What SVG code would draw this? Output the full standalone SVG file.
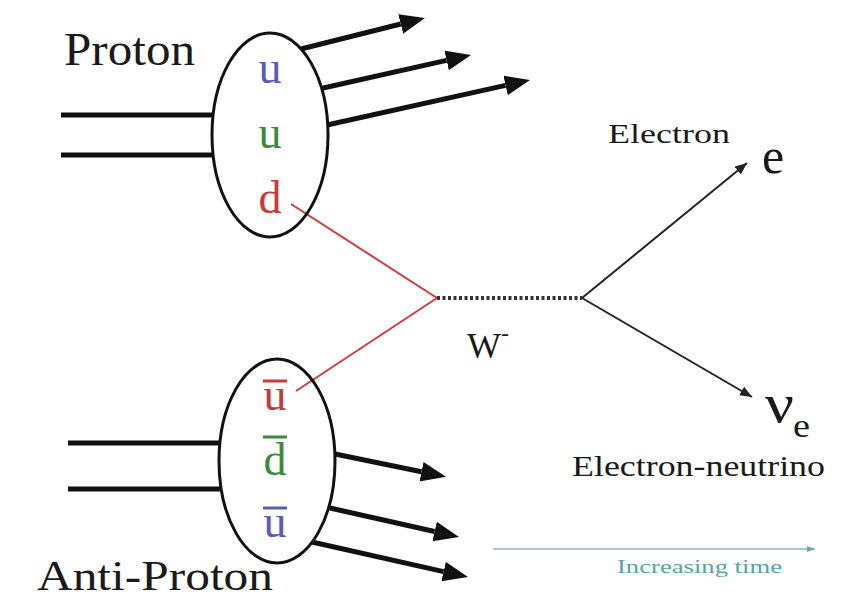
<svg xmlns="http://www.w3.org/2000/svg" width="843" height="601" viewBox="0 0 843 601">
<style>
.t{font-family:"Liberation Serif","Times New Roman",serif;fill:#1a1a1a}
.thick{stroke:#111;stroke-width:5;fill:none}
.thin{stroke:#222;stroke-width:2;fill:none}
.red{stroke:#d23a3a;stroke-width:2;fill:none}
.ell{fill:none;stroke:#111;stroke-width:3}
.q{font-family:"Liberation Serif","Times New Roman",serif;font-size:46px;text-anchor:middle}
</style>
<defs>
<marker id="big" markerUnits="userSpaceOnUse" markerWidth="26" markerHeight="22" refX="0" refY="10" orient="auto">
<path d="M0,0 L25,10 L0,20 z" fill="#111"/>
</marker>
<marker id="small" markerUnits="userSpaceOnUse" markerWidth="14" markerHeight="10" refX="12" refY="5" orient="auto">
<path d="M0,0 L12,5 L0,10 z" fill="#222"/>
</marker>
<marker id="tm" markerUnits="userSpaceOnUse" markerWidth="10" markerHeight="8" refX="8" refY="4" orient="auto">
<path d="M0,1 L8,4 L0,7 z" fill="#6aa8a8"/>
</marker>
</defs>
<rect width="843" height="601" fill="#fff"/>
<g id="connectors">
<line class="thick" x1="61" y1="115" x2="213" y2="115"/>
<line class="thick" x1="61" y1="155" x2="213" y2="155"/>
<line class="thick" x1="301" y1="49" x2="400.7" y2="24" marker-end="url(#big)"/>
<line class="thick" x1="321" y1="88.5" x2="446.6" y2="60.4" marker-end="url(#big)"/>
<line class="thick" x1="327" y1="125" x2="505.6" y2="85.4" marker-end="url(#big)"/>
<line class="thick" x1="68" y1="443" x2="220" y2="443"/>
<line class="thick" x1="68" y1="489" x2="221" y2="489"/>
<line class="thick" x1="335" y1="454" x2="421.5" y2="471.8" marker-end="url(#big)"/>
<line class="thick" x1="330" y1="508" x2="434.6" y2="531.5" marker-end="url(#big)"/>
<line class="thick" x1="312" y1="542" x2="443.6" y2="571.6" marker-end="url(#big)"/>
<line class="red" x1="291" y1="204" x2="437" y2="298"/>
<line class="red" x1="296" y1="391" x2="437" y2="298"/>
<line x1="437" y1="298" x2="582" y2="298" stroke="#333" stroke-width="4" stroke-dasharray="3 2.5"/>
<line class="thin" x1="582" y1="298" x2="747" y2="163" marker-end="url(#small)"/>
<line class="thin" x1="582" y1="298" x2="752" y2="397" marker-end="url(#small)"/>
<line x1="493" y1="549" x2="815" y2="549" stroke="#a8cccc" stroke-width="2" marker-end="url(#tm)"/>
</g>
<g id="proton">
<ellipse class="ell" cx="270" cy="135" rx="58" ry="102"/>
<text class="t" x="64" y="65" font-size="46" textLength="131" lengthAdjust="spacingAndGlyphs">Proton</text>
<text class="q" x="270" y="83" fill="#5a5ab8">u</text>
<text class="q" x="270" y="148" fill="#3a8a3a">u</text>
<text class="q" x="270" y="213" fill="#c83a3a" font-size="50">d</text>
</g>
<g id="antiproton">
<ellipse class="ell" cx="277" cy="461" rx="58" ry="102"/>
<text class="t" x="37" y="590" font-size="42" textLength="236" lengthAdjust="spacingAndGlyphs">Anti-Proton</text>
<text class="q" x="275" y="410" fill="#c83a3a">u</text>
<line x1="263" y1="381" x2="287" y2="381" stroke="#c83a3a" stroke-width="3"/>
<text class="q" x="275" y="475" fill="#3a8a3a" font-size="50">d</text>
<line x1="263" y1="437" x2="287" y2="437" stroke="#3a8a3a" stroke-width="3"/>
<text class="q" x="275" y="537" fill="#5a5ab8">u</text>
<line x1="263" y1="508" x2="287" y2="508" stroke="#5a5ab8" stroke-width="3"/>
</g>
<g id="w-boson">
<text class="t" x="467" y="358" font-size="36">W<tspan dy="-17" font-size="24">-</tspan></text>
</g>
<g id="electron">
<text class="t" x="608" y="143" font-size="28" textLength="122" lengthAdjust="spacingAndGlyphs">Electron</text>
<text class="t" x="762" y="173" font-size="50">e</text>
</g>
<g id="neutrino">
<text class="t" x="765" y="422" font-size="54" textLength="29" lengthAdjust="spacingAndGlyphs">ν</text>
<text class="t" x="793" y="437" font-size="34" textLength="17" lengthAdjust="spacingAndGlyphs">e</text>
<text class="t" x="572" y="476" font-size="30" textLength="253" lengthAdjust="spacingAndGlyphs">Electron-neutrino</text>
</g>
<g id="time">
<text x="617" y="573" font-family="Liberation Serif, serif" font-size="18" fill="#5aa3a3" textLength="165" lengthAdjust="spacingAndGlyphs">Increasing time</text>
</g>
</svg>
